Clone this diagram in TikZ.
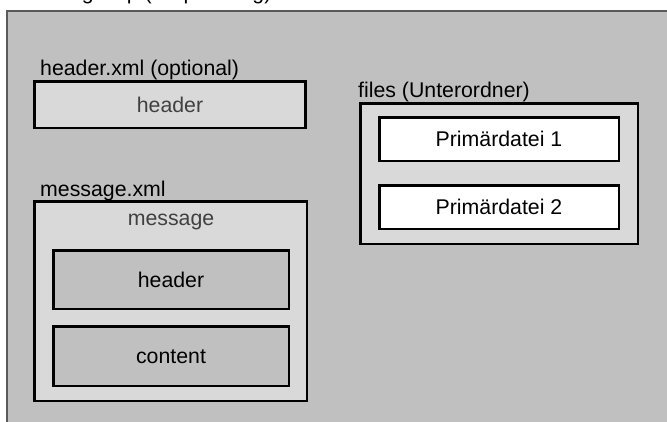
\documentclass[tikz,border=0pt]{standalone}
\usepackage{fontspec}
\setmainfont{Liberation Sans}
\definecolor{bggray}{HTML}{C0C0C0}
\definecolor{lightbox}{HTML}{D9D9D9}
\definecolor{framegray}{HTML}{5A5A5A}
\definecolor{softtext}{HTML}{404040}
\begin{document}
\begin{tikzpicture}[x=1pt,y=-1pt,
  every node/.style={font=\fontsize{21.3}{25}\selectfont, inner sep=0pt},
  box/.style={draw=black, line width=2.5pt, rectangle, text height=15.3pt, text depth=0pt},
  lbl/.style={anchor=base west, text=black},
  soft/.style={text=softtext}]
\useasboundingbox (0,0) rectangle (667,421);
% title, cut off at the top edge as in the reference
\node[lbl] (title) at (19,-0.3) {message.zip (Verpackung)};
% outer frame
\fill[bggray] (7,11) rectangle (690,440);
\draw[framegray, line width=1.6pt] (7,440) -- (7,11) -- (690,11);
% header.xml
\node[lbl] (hxlabel) at (40,75) {header.xml (optional)};
\node[box, fill=lightbox, minimum width=271pt, minimum height=46.5pt, soft] (hbox) at (170,104.5) {header};
% message.xml
\node[lbl] (mxlabel) at (40,196) {message.xml};
\node[box, fill=lightbox, minimum width=272.5pt, minimum height=199.5pt] (mbox) at (170.5,301) {};
\node[soft, anchor=base] (mtitle) at (171,225) {message};
\node[box, fill=bggray, minimum width=235.5pt, minimum height=58.5pt] (mhead) at (171,279.5) {header};
\node[box, fill=bggray, minimum width=235.5pt, minimum height=59.5pt] (mcont) at (171,356) {content};
% files
\node[lbl] (flabel) at (358,97) {files (Unterordner)};
\node[box, fill=lightbox, minimum width=277.5pt, minimum height=140.5pt] (fbox) at (499,173.5) {};
\node[box, fill=white, minimum width=239.5pt, minimum height=43.5pt] (p1) at (499,139) {Primärdatei 1};
\node[box, fill=white, minimum width=239.5pt, minimum height=43.5pt] (p2) at (499,207) {Primärdatei 2};
\end{tikzpicture}
\end{document}
